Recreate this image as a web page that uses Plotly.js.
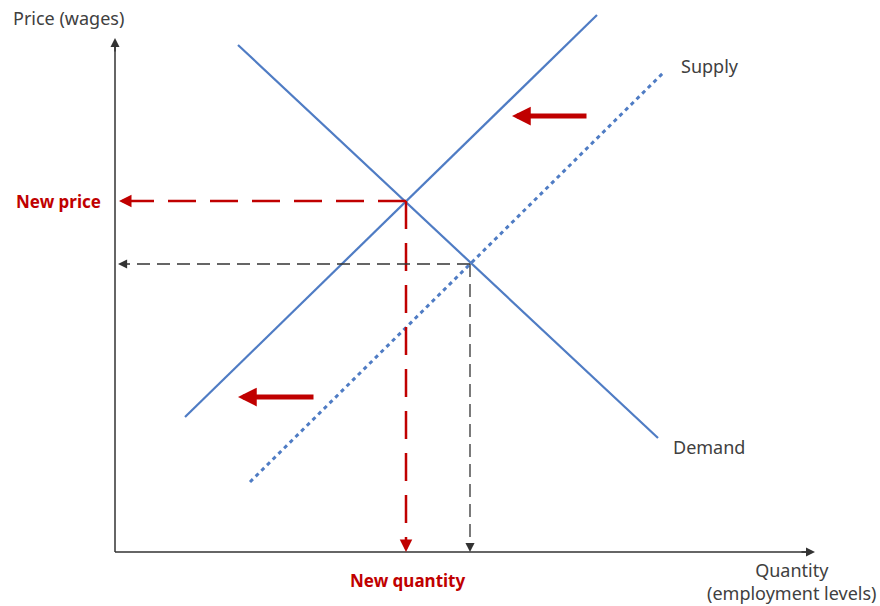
<!DOCTYPE html>
<html>
<head>
<meta charset="utf-8">
<script src="https://cdn.plot.ly/plotly-3.0.1.min.js"></script>
<style>html,body{margin:0;padding:0;background:#fff;}#chart{width:880px;height:606px;}</style>
</head>
<body>
<div id="chart"></div>
<script>
// Conceptual quantity / price units (origin at axis corner)
const demandQ = [123, 543];
const demandP = [507, 114];
const supplyNewQ = [70, 482];
const supplyNewP = [135, 537];
const supplyOldQ = [135, 548];
const supplyOldP = [70, 479];
const newEq = {q: 291, p: 351};
const oldEq = {q: 355, p: 288};
const axisMaxQ = 700;
const axisMaxP = 514;
const shiftArrows = [
  {fromQ: 473, toQ: 397, p: 436},
  {fromQ: 200, toQ: 123, p: 155}
];
const labels = {
  yTitle: "Price (wages)",
  xTitle: "Quantity<br>(employment levels)",
  newPrice: "New price",
  newQuantity: "New quantity",
  supply: "Supply",
  demand: "Demand"
};

const blue = "#4f7cc4";
const red = "#c00000";
const dark = "#333333";
const font = "Noto Sans, Open Sans, sans-serif";
const fs = 18;

const traces = [
  {x: demandQ, y: demandP, mode: "lines", line: {color: blue, width: 2.2}},
  {x: supplyNewQ, y: supplyNewP, mode: "lines", line: {color: blue, width: 2.2}},
  {x: supplyOldQ, y: supplyOldP, mode: "lines", line: {color: blue, width: 3, dash: "4px,4px"}},
  // axes
  {x: [0, 0], y: [0, axisMaxP - 8], mode: "lines", line: {color: dark, width: 1.5}},
  {x: [0, axisMaxQ - 8], y: [0, 0], mode: "lines", line: {color: dark, width: 1.5}},
  // red dashed guides
  {x: [newEq.q, 14], y: [newEq.p, newEq.p], mode: "lines", line: {color: red, width: 2.5, dash: "28px,14px"}},
  {x: [newEq.q, newEq.q], y: [newEq.p, 10], mode: "lines", line: {color: red, width: 2.5, dash: "28px,14px"}},
  // black dashed guides
  {x: [oldEq.q, 10], y: [oldEq.p, oldEq.p], mode: "lines", line: {color: dark, width: 1.3, dash: "13px,7px"}},
  {x: [oldEq.q, oldEq.q], y: [oldEq.p, 6], mode: "lines", line: {color: dark, width: 1.3, dash: "13px,7px"}}
];

function arrow(x0, y0, x1, y1, color, width, size, head) {
  return {x: x1, y: y1, ax: x0, ay: y0, xref: "x", yref: "y", axref: "x", ayref: "y",
    text: "", showarrow: true, arrowhead: head, arrowsize: size, arrowwidth: width, arrowcolor: color};
}
function label(x, y, text, opts) {
  return Object.assign({x: x, y: y, xref: "x", yref: "y", text: text, showarrow: false,
    font: {family: font, size: fs, color: "#404040"}}, opts || {});
}

const annotations = [
  arrow(0, axisMaxP - 15, 0, axisMaxP, dark, 1.5, 1.2, 2),
  arrow(axisMaxQ - 15, 0, axisMaxQ, 0, dark, 1.5, 1.2, 2),
  arrow(16, newEq.p, 4, newEq.p, red, 2.5, 1, 2),
  arrow(newEq.q, 12, newEq.q, 0, red, 2.5, 1, 2),
  arrow(12, oldEq.p, 3, oldEq.p, dark, 1.3, 1.4, 2),
  arrow(oldEq.q, 8, oldEq.q, 0, dark, 1.3, 1.4, 2),
  label(11 - 115, 552 - 18, labels.yTitle, {xanchor: "left"}),
  label(-57, newEq.p, labels.newPrice, {font: {family: font, size: fs - 1, color: red, weight: "bold"}}),
  label(newEq.q + 1, -28, labels.newQuantity, {font: {family: font, size: fs - 1, color: red, weight: "bold"}}),
  label(764, -29, labels.xTitle, {xanchor: "right", align: "center"}),
  label(564, 486, labels.supply, {xanchor: "left"}),
  label(556, 105, labels.demand, {xanchor: "left"})
];
shiftArrows.forEach(a => annotations.push(arrow(a.fromQ, a.p, a.toQ, a.p, red, 5, 0.75, 2)));

Plotly.newPlot("chart", traces, {
  width: 880, height: 606,
  margin: {l: 0, r: 0, t: 0, b: 0},
  paper_bgcolor: "#fff", plot_bgcolor: "#fff",
  showlegend: false,
  xaxis: {range: [-115, 765], visible: false, fixedrange: true},
  yaxis: {range: [-54, 552], visible: false, fixedrange: true},
  annotations: annotations
}, {displayModeBar: false, staticPlot: true});
</script>
</body>
</html>
